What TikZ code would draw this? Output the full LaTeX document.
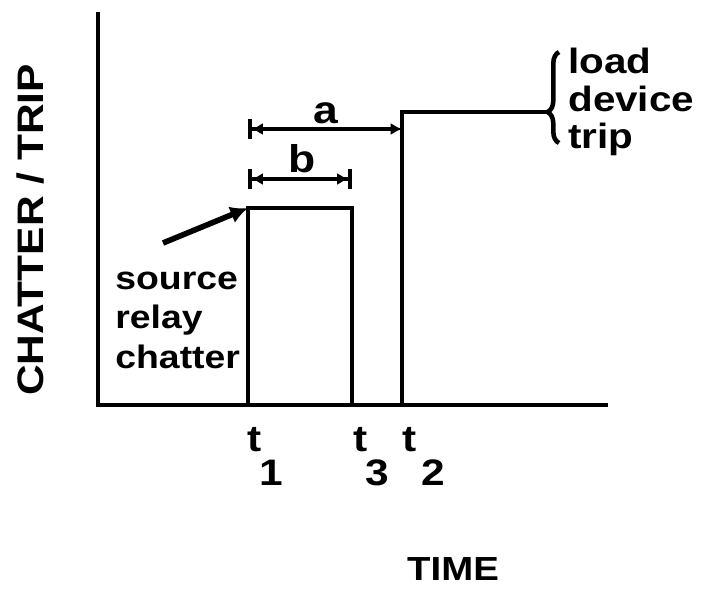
\documentclass[tikz,border=0pt]{standalone}
\usepackage{fontspec}
\setmainfont{Liberation Sans}
\newfontfamily\widesf[FakeStretch=1.15]{Liberation Sans}
\usetikzlibrary{arrows.meta,decorations.pathreplacing}

\begin{document}
\begin{tikzpicture}[x=0.02cm, y=-0.02cm,
  sig/.style={line width=2.3pt, line join=miter},
  dimln/.style={line width=2pt},
  arr/.style={-{Latex[length=10pt,width=10pt]}, line width=3.2pt},
  lbl/.style={font=\widesf\fontsize{18.5}{22.5}\selectfont\bfseries,
              align=left, inner sep=0pt},
  tlbl/.style={font=\widesf\fontsize{21}{24}\selectfont\bfseries,
               inner sep=0pt},
]
\useasboundingbox (0,0) rectangle (705,599);

%% ---- Time marks (x) and levels (y)
\def\ta{248}  % t1
\def\tc{352}  % t3
\def\tb{402}  % t2
\def\yz{405}  % zero level
\def\yc{208}  % chatter level
\def\yt{112}  % trip level

%% ---- Axes
\coordinate (ytop) at (98,12);
\coordinate (org)  at (98,\yz);
\coordinate (xend) at (608,\yz);
\draw[sig] (ytop) -- (org) -- (xend);

%% ---- Chatter pulse t1 .. t3
\coordinate (p1)    at (\ta,\yz);
\coordinate (p1top) at (\ta,\yc);
\coordinate (p3top) at (\tc,\yc);
\coordinate (p3)    at (\tc,\yz);
\draw[sig] (p1) -- (p1top) -- (p3top) -- (p3);

%% ---- Trip step at t2
\coordinate (p2)    at (\tb,\yz);
\coordinate (p2top) at (\tb,\yt);
\coordinate (brtip) at (547,\yt);
\draw[sig] (p2) -- (p2top) -- (brtip);

% brace round the trip label
\coordinate (brbot) at (559,143);
\coordinate (brtop) at (559,52);
\draw[line width=2.6pt, decorate,
      decoration={brace, amplitude=6.5pt, aspect=0.34}] (brbot) -- (brtop);

%% ---- Intervals a and b
\coordinate (aL) at (\ta,129);
\coordinate (aR) at (\tb,129);
\coordinate (bL) at (\ta,179);
\coordinate (bR) at (\tc,179);
\draw[dimln, arrows={Bar[width=11pt]Latex[length=6.5pt,width=7pt]-Latex[length=6.5pt,width=7pt]}]
  (aL) -- (aR);
\draw[dimln, arrows={Bar[width=11pt]Latex[length=6.5pt,width=7pt]-Latex[length=6.5pt,width=7pt]Bar[width=11pt]}]
  (bL) -- (bR);
\node[tlbl, font=\widesf\fontsize{22}{24}\selectfont\bfseries, anchor=base]
  (alab) at (326,123) {a};
\node[tlbl, font=\widesf\fontsize{22}{24}\selectfont\bfseries, anchor=base]
  (blab) at (302,172) {b};

%% ---- Labels
\node[lbl, anchor=west] (srclab) at (115,320) {source\\relay\\chatter};
\coordinate (arrs) at (163,243);
\draw[arr] (arrs) -- (p1top);

\node[lbl, font=\widesf\fontsize{20}{21.5}\selectfont\bfseries, anchor=west]
  (triplab) at (568,102) {load\\device\\trip};

\node[font=\widesf\fontsize{21}{25}\selectfont\bfseries, rotate=90, inner sep=0pt]
  (ylab) at (31,230) {CHATTER / TRIP};
\node[font=\fontsize{19}{22}\selectfont\bfseries, inner sep=0pt]
  (xlab) at (453,569) {\scalebox{1.15}[1]{TIME}};

%% ---- Time ticks t1, t3, t2
\node[tlbl] (t1l) at (255,440) {t};
\node[tlbl] (t1s) at (271,473) {1};
\node[tlbl] (t3l) at (361,440) {t};
\node[tlbl] (t3s) at (377,473) {3};
\node[tlbl] (t2l) at (410,440) {t};
\node[tlbl] (t2s) at (433,473) {2};

\end{tikzpicture}
\end{document}
